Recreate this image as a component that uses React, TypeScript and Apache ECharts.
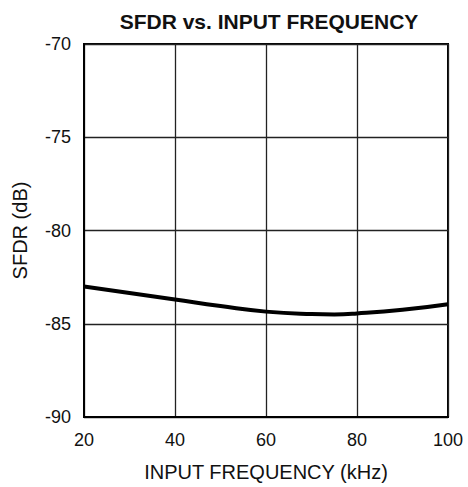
import React, { useEffect, useRef } from "react";
import * as echarts from "echarts";

const frequencies = [20, 30, 40, 50, 60, 70, 75, 80, 90, 100];
const sfdrValues = [-83.0, -83.35, -83.7, -84.05, -84.35, -84.48, -84.5, -84.45, -84.25, -83.95];
const xTicks = [20, 40, 60, 80, 100];
const yTicks = [-90, -85, -80, -75, -70];

const FONT = '"Liberation Sans", Arial, Helvetica, sans-serif';

export default function App() {
  const ref = useRef<HTMLDivElement>(null);
  useEffect(() => {
    if (!ref.current) return;
    const chart = echarts.init(ref.current, undefined, { renderer: "svg" });
    chart.setOption({
      animation: false,
      backgroundColor: "#fff",
      title: {
        text: "SFDR vs. INPUT FREQUENCY",
        left: 264,
        textAlign: "center",
        top: 6,
        textStyle: { fontFamily: FONT, fontSize: 21, fontWeight: "bold", color: "#111" },
      },
      grid: {
        left: 84,
        right: 20,
        top: 44,
        bottom: 65,
        show: true,
        borderColor: "#000",
        borderWidth: 2,
        backgroundColor: "transparent",
      },
      xAxis: {
        type: "value",
        min: xTicks[0],
        max: xTicks[xTicks.length - 1],
        interval: 20,
        name: "INPUT FREQUENCY (kHz)",
        nameLocation: "middle",
        nameGap: 45,
        nameTextStyle: { fontFamily: FONT, fontSize: 20, color: "#111" },
        axisLine: { show: true, lineStyle: { color: "#000", width: 2 } },
        axisTick: { show: false },
        axisLabel: { fontFamily: FONT, fontSize: 18, color: "#111", margin: 14 },
        splitLine: { show: true, lineStyle: { color: "#222", width: 1.3 } },
      },
      yAxis: {
        type: "value",
        min: yTicks[0],
        max: yTicks[yTicks.length - 1],
        interval: 5,
        name: "SFDR (dB)",
        nameLocation: "middle",
        nameGap: 54,
        nameTextStyle: { fontFamily: FONT, fontSize: 20, color: "#111" },
        axisLine: { show: true, lineStyle: { color: "#000", width: 2 } },
        axisTick: { show: false },
        axisLabel: { fontFamily: FONT, fontSize: 18, color: "#111", margin: 13 },
        splitLine: { show: true, lineStyle: { color: "#222", width: 1.3 } },
      },
      series: [
        {
          type: "line",
          data: frequencies.map((f, i) => [f, sfdrValues[i]]),
          smooth: true,
          symbol: "none",
          lineStyle: { color: "#000", width: 4 },
        },
      ],
    });
    return () => chart.dispose();
  }, []);
  return (
    <div
      ref={ref}
      style={{ position: "fixed", left: 0, top: 0, width: 468, height: 487 }}
    />
  );
}
